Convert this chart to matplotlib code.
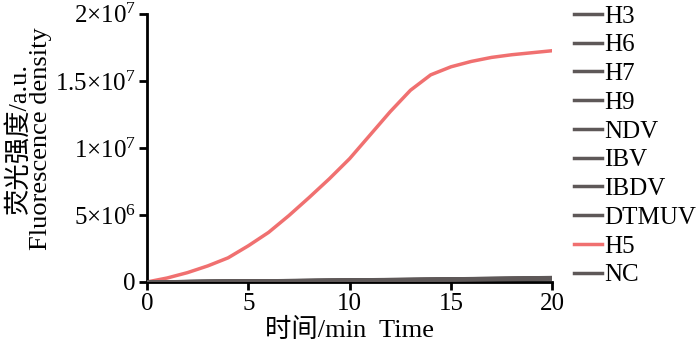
import matplotlib
matplotlib.use('Agg')
import matplotlib.pyplot as plt

plt.rcParams['font.family'] = ['Liberation Serif', 'Noto Sans CJK SC']
plt.rcParams['mathtext.fontset'] = 'custom'
plt.rcParams['mathtext.rm'] = 'Liberation Serif'
plt.rcParams['mathtext.it'] = 'Liberation Serif'

# time in minutes
time = [0, 1, 2, 3, 4, 5, 6, 7, 8, 9, 10, 11, 12, 13, 14, 15, 16, 17, 18, 19, 20]
h5 = [0, 0.3e6, 0.7e6, 1.2e6, 1.8e6, 2.7e6, 3.7e6, 4.95e6, 6.3e6, 7.7e6, 9.2e6,
      10.95e6, 12.7e6, 14.3e6, 15.45e6, 16.05e6, 16.45e6, 16.75e6, 16.95e6, 17.1e6, 17.25e6]

time_neg = [0, 5, 10, 15, 20]
h3 = [0, 0.05e6, 0.12e6, 0.2e6, 0.28e6]
h6 = [0, 0.06e6, 0.13e6, 0.21e6, 0.3e6]
h7 = [0, 0.05e6, 0.11e6, 0.18e6, 0.25e6]
h9 = [0, 0.07e6, 0.14e6, 0.22e6, 0.32e6]
ndv = [0, 0.06e6, 0.12e6, 0.19e6, 0.27e6]
ibv = [0, 0.05e6, 0.1e6, 0.17e6, 0.24e6]
ibdv = [0, 0.07e6, 0.15e6, 0.23e6, 0.33e6]
dtmuv = [0, 0.06e6, 0.13e6, 0.2e6, 0.29e6]
nc = [0, 0.04e6, 0.09e6, 0.15e6, 0.22e6]

grey = '#5e5858'
red = '#f07070'

fig = plt.figure(figsize=(7, 3.46), dpi=100)
ax = fig.add_axes([0.21, 0.185, 0.579, 0.775])

for name, vals in [('H3', h3), ('H6', h6), ('H7', h7), ('H9', h9), ('NDV', ndv),
                   ('IBV', ibv), ('IBDV', ibdv), ('DTMUV', dtmuv)]:
    ax.plot(time_neg, vals, color=grey, lw=2.5, label=name, zorder=3)
ax.plot(time, h5, color=red, lw=2.5, label='H5', zorder=2)
ax.plot(time_neg, nc, color=grey, lw=2.5, label='NC', zorder=3)

ax.set_xlim(0, 20)
ax.set_ylim(0, 2e7)
ax.set_xticks([0, 5, 10, 15, 20])
ax.set_yticks([0, 5e6, 1e7, 1.5e7, 2e7])
ax.set_yticklabels(['0', r'$5{\times}10^{6}$', r'$1{\times}10^{7}$',
                    r'$1.5{\times}10^{7}$', r'$2{\times}10^{7}$'])
ax.tick_params(labelsize=18, width=2, length=6, direction='out', pad=2)
for s in ['top', 'right']:
    ax.spines[s].set_visible(False)
for s in ['left', 'bottom']:
    ax.spines[s].set_linewidth(2)

ax.set_xlabel('时间/min  Time', fontsize=19, labelpad=2)
ax.set_ylabel('荧光强度/a.u.\nFluorescence density', fontsize=19,
              linespacing=0.95)
ax.yaxis.set_label_coords(-0.235, 0.535)

ax.legend(loc='upper left', bbox_to_anchor=(1.03, 1.07), frameon=False,
          fontsize=18, handlelength=1.1, handletextpad=0.1, labelspacing=0.25,
          borderaxespad=0)

fig.savefig('out.png', dpi=100)
